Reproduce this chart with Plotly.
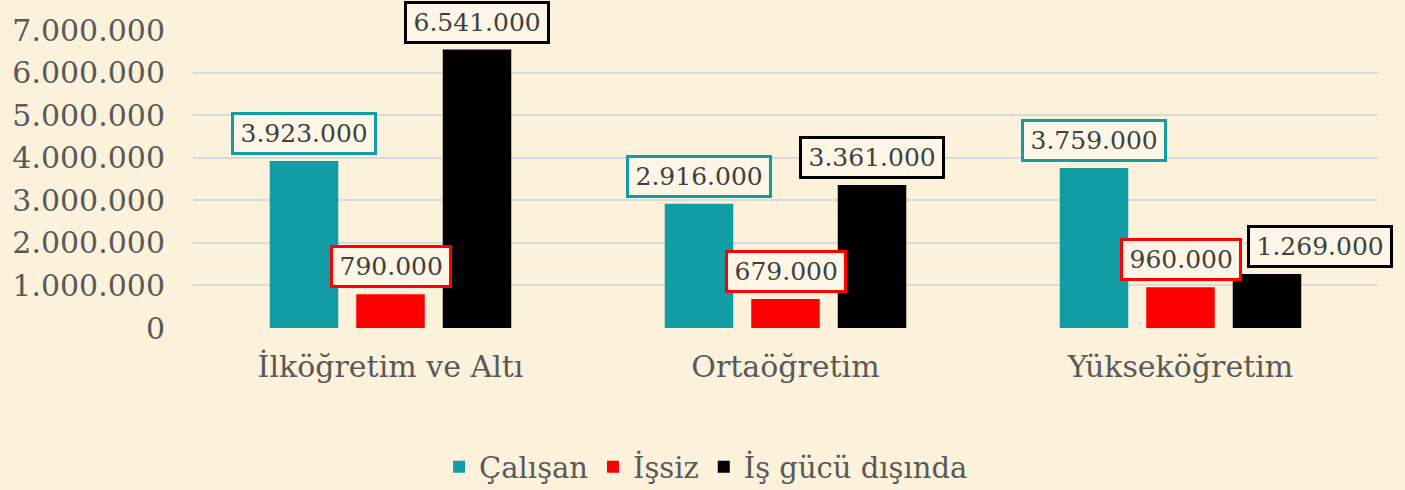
import plotly.graph_objects as go

categories = ["İlköğretim ve Altı", "Ortaöğretim", "Yükseköğretim"]
series_names = ["Çalışan", "İşsiz", "İş gücü dışında"]
calisan = [3923000, 2916000, 3759000]
issiz = [790000, 679000, 960000]
isgucu_disinda = [6541000, 3361000, 1269000]
y_ticks = [0, 1000000, 2000000, 3000000, 4000000, 5000000, 6000000, 7000000]

series_values = [calisan, issiz, isgucu_disinda]
colors = ["#129CA3", "#FF0000", "#000000"]
label_nudge = {(2, 2): 53}  # (series, category) -> px shift, as in reference

FONT = "DejaVu Serif"
TXT = "#595959"
BG = "#FCF1DA"

bargap = 0.343
bargroupgap = 0.208

def fmt(v):
    return "\u200a" + f"{v:,}".replace(",", ".") + "\u200a"

fig = go.Figure()
for name, vals, col in zip(series_names, series_values, colors):
    fig.add_trace(go.Bar(name=name, x=categories, y=vals, marker=dict(color=col, line=dict(width=0))))

slot = (1 - bargap) / 3
annotations = []
for si, (vals, col) in enumerate(zip(series_values, colors)):
    for ci, v in enumerate(vals):
        annotations.append(dict(
            x=ci + (si - 1) * slot, y=v, xref="x", yref="y",
            text=fmt(v), showarrow=False, yanchor="bottom", xanchor="center",
            yshift=6, xshift=label_nudge.get((si, ci), 0),
            font=dict(family=FONT, size=25, color="#404040"),
            bgcolor="#FDF6E6", bordercolor=col, borderwidth=3, borderpad=4,
        ))

fig.update_layout(
    width=1405, height=490, autosize=False,
    margin=dict(l=193, r=27, t=30, b=162, autoexpand=False),
    paper_bgcolor=BG, plot_bgcolor=BG,
    barmode="group", bargap=bargap, bargroupgap=bargroupgap,
    separators=",.",
    font=dict(family=FONT, color=TXT, size=30),
    showlegend=True,
    legend=dict(orientation="h", x=0.433, xanchor="center", y=-0.466, yanchor="middle",
                font=dict(family=FONT, size=29, color=TXT), itemwidth=30,
                bgcolor="rgba(0,0,0,0)", traceorder="normal"),
    annotations=annotations,
)
fig.update_yaxes(range=[0, 7000000], tickvals=y_ticks, tickformat=",d",
                 showgrid=True, gridcolor="#D8D9DD", gridwidth=1.5,
                 zeroline=False, showline=False, ticks="", automargin=False,
                 tickfont=dict(family=FONT, size=30, color=TXT), ticklabelstandoff=27)
fig.update_xaxes(range=[-0.5, len(categories) - 0.5], showgrid=False, showline=False,
                 ticks="", automargin=False,
                 tickfont=dict(family=FONT, size=30, color=TXT), ticklabelstandoff=18)

fig.write_html("out.html", config={"displayModeBar": False, "responsive": False},
               post_script="document.body.style.overflow='hidden';document.body.style.margin='0';")
